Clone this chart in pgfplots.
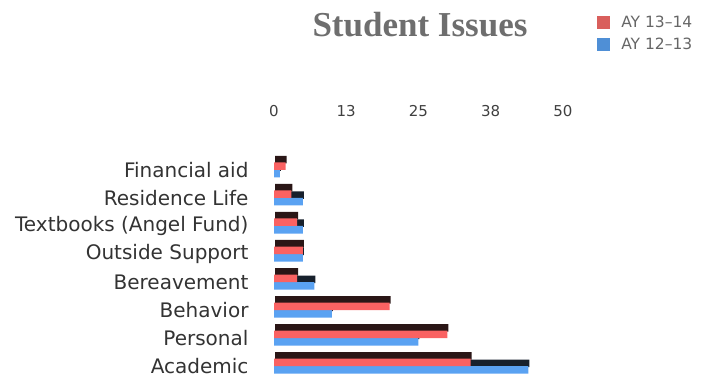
\documentclass[border=0pt]{standalone}
\usepackage{pgfplots}
\pgfplotsset{compat=1.18}
\usepackage{fontspec}
\setmainfont{DejaVu Sans}
\newfontfamily\titlefont{Liberation Serif}
\definecolor{barred}{HTML}{FA6262}
\definecolor{barblue}{HTML}{5AA2F2}
\definecolor{legred}{HTML}{D95F5C}
\definecolor{legblue}{HTML}{4F8FD6}
\definecolor{shred}{HTML}{2A1616}
\definecolor{shblue}{HTML}{17202C}
\definecolor{titlegray}{HTML}{6E6E6E}
\begin{document}
\begin{tikzpicture}
\useasboundingbox (0,0) rectangle (717pt,375pt);
\node[font=\titlefont\bfseries\fontsize{35}{40}\selectfont, text=titlegray, anchor=base] at (420pt,338pt) {Student Issues};
\begin{axis}[
  at={(274pt,0.6pt)}, anchor=south west,
  scale only axis, width=289pt, height=218.4pt,
  xmin=0, xmax=50, ymin=-0.3, ymax=7.5,
  xbar, bar width=7.5pt,
  axis line style={draw=none},
  major tick length=0pt,
  /pgf/number format/assume math mode=true,
  xtick={0,12.5,25,37.5,50}, xticklabels={0,13,25,38,50},
  xticklabel pos=upper,
  xticklabel style={font=\fontsize{15}{18}\selectfont, text=black!75, yshift=36pt},
  ytick={0,...,7},
  yticklabels={Academic,Personal,Behavior,Bereavement,Outside Support,Textbooks (Angel Fund),Residence Life,Financial aid},
  yticklabel style={font=\fontsize{20}{22}\selectfont, text=black!80, xshift=-22pt, inner ysep=0pt},
  legend image code/.code={\fill[#1, draw=none] (0pt,-6.5pt) rectangle (13pt,6.5pt);},
  legend style={at={(1.118,1.652)}, anchor=north west, draw=none, fill=none,
    font=\fontsize{15.5}{17}\selectfont, text=black!60, row sep=5pt, inner sep=0pt,
    /tikz/every odd column/.append style={column sep=9pt}},
  legend cell align=left,
]
% shadows
\addplot[forget plot, fill=shblue, draw=none, bar shift=2.75pt, xshift=1pt] coordinates {(44,0) (25,1) (10,2) (7,3) (5,4) (5,5) (5,6) (1,7)};
\addplot[forget plot, fill=shred, draw=none, bar shift=10.25pt, xshift=1pt] coordinates {(34,0) (30,1) (20,2) (4,3) (5,4) (4,5) (3,6) (2,7)};
% bars
\addplot[forget plot, fill=barblue, draw=none, bar shift=-3.75pt] coordinates {(44,0) (25,1) (10,2) (7,3) (5,4) (5,5) (5,6) (1,7)};
\addplot[forget plot, fill=barred, draw=none, bar shift=3.75pt] coordinates {(34,0) (30,1) (20,2) (4,3) (5,4) (4,5) (3,6) (2,7)};
\addlegendimage{fill=legred}
\addlegendentry{AY 13--14}
\addlegendimage{fill=legblue}
\addlegendentry{AY 12--13}
\end{axis}
\end{tikzpicture}
\end{document}
